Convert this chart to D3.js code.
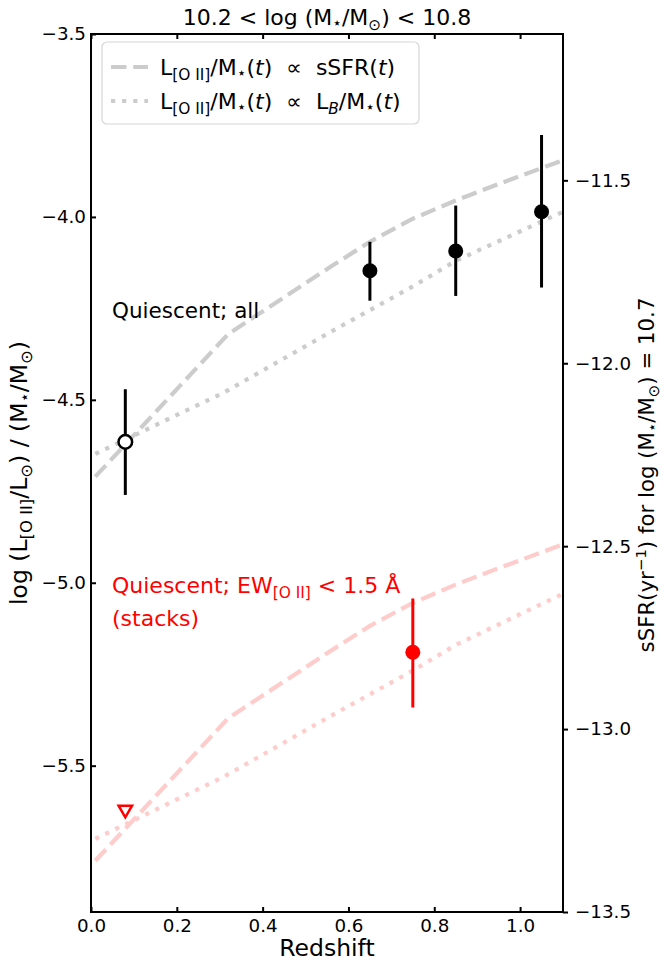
<!DOCTYPE html>
<html>
<head>
<meta charset="utf-8">
<script src="https://cdn.jsdelivr.net/npm/d3@7"></script>
<style>
body { margin: 0; background: #fff; }
text { font-family: "DejaVu Sans", sans-serif; white-space: pre; }
</style>
</head>
<body>
<div id="plot"></div>
<script>
// quiescent, all (individual)
var allZ = [0.08, 0.65, 0.85, 1.05];
var allVal = [-4.615, -4.147, -4.093, -3.986];
var allLo = [-4.760, -4.229, -4.216, -4.193];
var allHi = [-4.471, -4.068, -3.969, -3.776];
var allOpen = [true, false, false, false];

// quiescent, EW < 1.5 (stacks)
var stackZ = [0.75];
var stackVal = [-5.19];
var stackLo = [-5.341];
var stackHi = [-5.043];
var limitZ = [0.08];
var limitVal = [-5.62];

// model tracks
var ssfrZ = [0.01, 0.32, 0.56, 0.65, 0.75, 0.85, 0.95, 1.1];
var ssfrAll = [-4.71, -4.32, -4.135, -4.068, -4.005, -3.955, -3.91, -3.845];
var ssfrStack = [-5.76, -5.37, -5.185, -5.118, -5.055, -5.005, -4.96, -4.895];
var lbZ = [0.01, 0.31, 0.565, 0.75, 0.85, 1.1];
var lbAll = [-4.648, -4.48, -4.31, -4.19, -4.12, -3.986];
var lbStack = [-5.70, -5.53, -5.36, -5.24, -5.17, -5.03];

var xTicks = [0.0, 0.2, 0.4, 0.6, 0.8, 1.0];
var yTicks = [-5.5, -5.0, -4.5, -4.0, -3.5];
var ssfrTicks = [-13.5, -13.0, -12.5, -12.0, -11.5];

var width = 665;
var height = 962;
var pLeft = 91, pRight = 563, pTop = 34, pBottom = 912;

var svg = d3.select("#plot").append("svg").attr("width", width).attr("height", height);
svg.append("rect").attr("width", width).attr("height", height).attr("fill", "#fff");

var xScale = d3.scaleLinear().domain([0, 1.1]).range([pLeft, pRight]);
var yScale = d3.scaleLinear().domain([-5.9, -3.5]).range([pBottom, pTop]);
var yRight = d3.scaleLinear().domain([-13.5, -11.1]).range([pBottom, pTop]);

// text with sub/superscripts
function rich(t, parts, size) {
    var shift = 0;
    parts.forEach(function(p) {
        var s = p[1] || "";
        var want = 0;
        if (s.indexOf("sub") >= 0) want = 0.22 * size;
        if (s.indexOf("sup") >= 0) want = -0.38 * size;
        if (s == "star") want = 0.12 * size;
        var ts = t.append("tspan").text(p[0]).attr("dy", want - shift);
        shift = want;
        if (want !== 0) ts.attr("font-size", size * 0.7);
        if (s.indexOf("it") >= 0) ts.attr("font-style", "italic");
    });
}

function track(xs, ys, color, dash) {
    svg.append("path")
        .datum(xs.map(function(d, i) { return [d, ys[i]]; }))
        .attr("d", d3.line().x(function(d) { return xScale(d[0]); }).y(function(d) { return yScale(d[1]); }))
        .attr("fill", "none")
        .attr("stroke", color)
        .attr("stroke-width", 4.2)
        .attr("stroke-dasharray", dash);
}

var dashed = "15.5,6.7";
var dotted = "4.2,6.9";
track(ssfrZ, ssfrAll, "#cccccc", dashed);
track(lbZ, lbAll, "#cccccc", dotted);
track(ssfrZ, ssfrStack, "#ffcccc", dashed);
track(lbZ, lbStack, "#ffcccc", dotted);

// error bars
function errBars(xs, lo, hi, color) {
    svg.append("g").selectAll("line")
        .data(xs)
        .enter()
        .append("line")
        .attr("x1", function(d) { return xScale(d); })
        .attr("x2", function(d) { return xScale(d); })
        .attr("y1", function(d, i) { return yScale(lo[i]); })
        .attr("y2", function(d, i) { return yScale(hi[i]); })
        .attr("stroke", color)
        .attr("stroke-width", 3);
}
errBars(allZ, allLo, allHi, "black");
errBars(stackZ, stackLo, stackHi, "red");

svg.append("g").selectAll("circle")
    .data(allZ)
    .enter()
    .append("circle")
    .attr("cx", function(d) { return xScale(d); })
    .attr("cy", function(d, i) { return yScale(allVal[i]); })
    .attr("r", function(d, i) { return allOpen[i] ? 6.8 : 7.5; })
    .attr("fill", function(d, i) { return allOpen[i] ? "white" : "black"; })
    .attr("stroke", "black")
    .attr("stroke-width", function(d, i) { return allOpen[i] ? 2.5 : 0; });

svg.append("g").selectAll("circle")
    .data(stackZ)
    .enter()
    .append("circle")
    .attr("cx", function(d) { return xScale(d); })
    .attr("cy", function(d, i) { return yScale(stackVal[i]); })
    .attr("r", 7.5)
    .attr("fill", "red");

svg.append("g").selectAll("path")
    .data(limitZ)
    .enter()
    .append("path")
    .attr("d", d3.symbol().type(d3.symbolTriangle).size(78))
    .attr("transform", function(d, i) { return "translate(" + xScale(d) + "," + yScale(limitVal[i]) + ") rotate(180)"; })
    .attr("fill", "white")
    .attr("stroke", "red")
    .attr("stroke-width", 2.5);

// axes
var fmt = d3.format(".1f");
function styleAxis(g) {
    g.attr("font-size", 18.3).attr("font-family", "DejaVu Sans");
    g.select(".domain").remove();
    g.selectAll(".tick line").attr("stroke", "black").attr("stroke-width", 2);
    g.selectAll(".tick text").attr("fill", "black");
}
svg.append("g")
    .attr("transform", "translate(0," + pBottom + ")")
    .call(d3.axisBottom(xScale).tickValues(xTicks).tickFormat(fmt).tickSizeInner(-5).tickSizeOuter(0).tickPadding(7))
    .call(styleAxis);
svg.append("g")
    .attr("transform", "translate(0," + pTop + ")")
    .call(d3.axisTop(xScale).tickValues(xTicks).tickFormat("").tickSizeInner(-5).tickSizeOuter(0))
    .call(styleAxis);
svg.append("g")
    .attr("transform", "translate(" + pLeft + ",0)")
    .call(d3.axisLeft(yScale).tickValues(yTicks).tickFormat(fmt).tickSizeInner(-5).tickSizeOuter(0).tickPadding(5))
    .call(styleAxis);
svg.append("g")
    .attr("transform", "translate(" + pRight + ",0)")
    .call(d3.axisRight(yRight).tickValues(ssfrTicks).tickFormat(fmt).tickSizeInner(5).tickSizeOuter(0).tickPadding(7))
    .call(styleAxis);

svg.append("rect")
    .attr("x", pLeft).attr("y", pTop)
    .attr("width", pRight - pLeft).attr("height", pBottom - pTop)
    .attr("fill", "none").attr("stroke", "black").attr("stroke-width", 2);

// legend
svg.append("rect")
    .attr("x", 102).attr("y", 42).attr("width", 317).attr("height", 82).attr("rx", 5)
    .attr("fill", "white").attr("fill-opacity", 0.8)
    .attr("stroke", "#d6d6d6").attr("stroke-width", 1.2);
svg.append("line").attr("x1", 111).attr("x2", 148).attr("y1", 67).attr("y2", 67)
    .attr("stroke", "#cccccc").attr("stroke-width", 4.2).attr("stroke-dasharray", dashed);
svg.append("line").attr("x1", 111).attr("x2", 148).attr("y1", 101).attr("y2", 101)
    .attr("stroke", "#cccccc").attr("stroke-width", 4.2).attr("stroke-dasharray", dotted);
rich(svg.append("text").attr("x", 160).attr("y", 75).attr("font-size", 22),
    [["L"], ["[O II]", "sub"], ["/M"], ["\u22c6", "star"], ["("], ["t", "it"], [")  \u221d  sSFR("], ["t", "it"], [")"]], 22);
rich(svg.append("text").attr("x", 160).attr("y", 109).attr("font-size", 22),
    [["L"], ["[O II]", "sub"], ["/M"], ["\u22c6", "star"], ["("], ["t", "it"], [")  \u221d  L"], ["B", "subit"], ["/M"], ["\u22c6", "star"], ["("], ["t", "it"], [")"]], 22);

// annotations
svg.append("text").attr("x", 112).attr("y", 318).attr("font-size", 21.5).text("Quiescent; all");
rich(svg.append("text").attr("x", 112).attr("y", 593).attr("font-size", 22).attr("fill", "red"),
    [["Quiescent; EW"], ["[O II]", "sub"], [" < 1.5 \u00c5"]], 22);
svg.append("text").attr("x", 112).attr("y", 626).attr("font-size", 22).attr("fill", "red").text("(stacks)");

// title and labels
rich(svg.append("text").attr("x", (pLeft + pRight) / 2).attr("y", 25).attr("font-size", 22).attr("text-anchor", "middle"),
    [["10.2 < log (M"], ["\u22c6", "star"], ["/M"], ["\u2299", "sub"], [") < 10.8"]], 22);
svg.append("text").attr("x", (pLeft + pRight) / 2).attr("y", 956).attr("font-size", 23.5)
    .attr("text-anchor", "middle").text("Redshift");
rich(svg.append("text").attr("transform", "translate(27," + ((pTop + pBottom) / 2) + ") rotate(-90)")
        .attr("font-size", 23.5).attr("text-anchor", "middle"),
    [["log (L"], ["[O II]", "sub"], ["/L"], ["\u2299", "sub"], [") / (M"], ["\u22c6", "star"], ["/M"], ["\u2299", "sub"], [")"]], 23.5);
rich(svg.append("text").attr("transform", "translate(654," + (((pTop + pBottom) / 2) + 2) + ") rotate(-90)")
        .attr("font-size", 21.3).attr("text-anchor", "middle"),
    [["sSFR(yr"], ["\u22121", "sup"], [") for log (M"], ["\u22c6", "star"], ["/M"], ["\u2299", "sub"], [") = 10.7"]], 21.3);
</script>
</body>
</html>
